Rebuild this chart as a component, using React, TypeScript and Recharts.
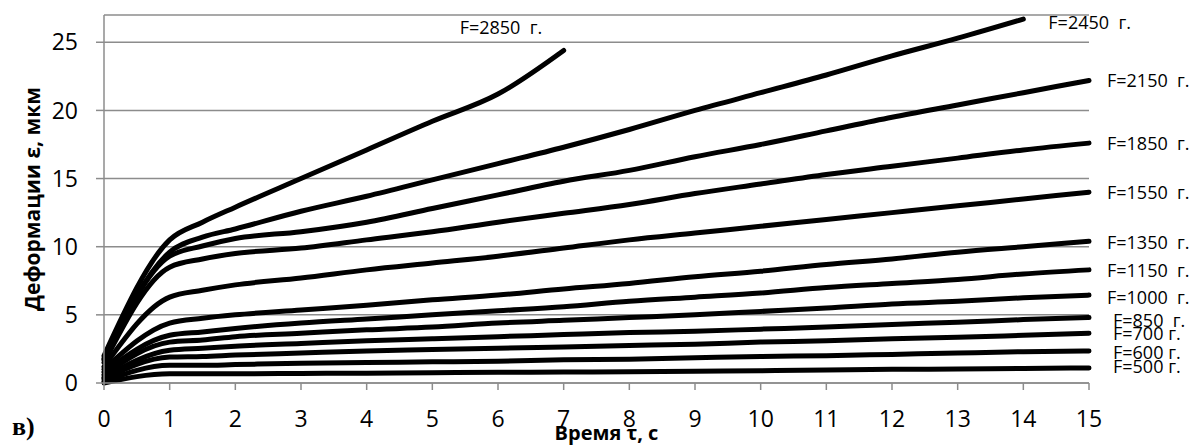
import React from "react";
import {
  LineChart,
  Line,
  XAxis,
  YAxis,
  CartesianGrid,
  LabelList,
} from "recharts";

// time points (s)
const times = [0, 1, 1.5, 2, 3, 4, 5, 6, 7, 8, 9, 10, 11, 12, 13, 14, 15];

// deformation, mkm, one list per load
const f2850 = [2.0, 10.5, 11.8, 12.9, 15.0, 17.1, 19.2, 21.2, 24.4];
const f2450 = [1.8, 9.6, 10.7, 11.3, 12.6, 13.7, 14.9, 16.1, 17.3, 18.6, 20.0, 21.3, 22.6, 24.0, 25.3, 26.7];
const f2150 = [1.7, 9.3, 10.05, 10.6, 11.1, 11.8, 12.8, 13.8, 14.8, 15.6, 16.6, 17.5, 18.5, 19.5, 20.4, 21.3, 22.2];
const f1850 = [1.5, 8.5, 9.1, 9.5, 9.9, 10.5, 11.1, 11.8, 12.45, 13.1, 13.9, 14.6, 15.3, 15.9, 16.5, 17.1, 17.6];
const f1550 = [1.2, 6.3, 6.8, 7.2, 7.7, 8.3, 8.8, 9.3, 9.9, 10.5, 11.0, 11.5, 12.0, 12.5, 13.0, 13.5, 14.0];
const f1350 = [1.0, 4.4, 4.75, 5.0, 5.35, 5.7, 6.1, 6.45, 6.9, 7.3, 7.8, 8.2, 8.7, 9.1, 9.6, 10.0, 10.4];
const f1150 = [0.8, 3.5, 3.75, 4.0, 4.4, 4.7, 5.0, 5.3, 5.6, 6.0, 6.3, 6.6, 7.0, 7.3, 7.6, 8.0, 8.3];
const f1000 = [0.6, 3.0, 3.15, 3.4, 3.65, 3.9, 4.1, 4.4, 4.6, 4.8, 5.0, 5.25, 5.5, 5.8, 6.0, 6.25, 6.45];
const f850 = [0.4, 2.4, 2.55, 2.7, 2.9, 3.1, 3.25, 3.4, 3.55, 3.7, 3.8, 3.95, 4.1, 4.3, 4.45, 4.65, 4.8];
const f700 = [0.3, 1.9, 1.95, 2.05, 2.2, 2.35, 2.45, 2.55, 2.65, 2.75, 2.85, 3.0, 3.1, 3.25, 3.35, 3.5, 3.65];
const f600 = [0.1, 1.3, 1.3, 1.35, 1.45, 1.5, 1.55, 1.6, 1.7, 1.75, 1.85, 1.95, 2.0, 2.1, 2.2, 2.3, 2.35];
const f500 = [0, 0.68, 0.68, 0.68, 0.7, 0.72, 0.75, 0.78, 0.8, 0.83, 0.87, 0.9, 0.95, 1.0, 1.03, 1.07, 1.1];

const seriesValues = [f2850, f2450, f2150, f1850, f1550, f1350, f1150, f1000, f850, f700, f600, f500];
const seriesNames = [
  "F=2850  г.", "F=2450  г.", "F=2150  г.", "F=1850  г.", "F=1550  г.", "F=1350  г.",
  "F=1150  г.", "F=1000  г.", "F=850  г.", "F=700 г.", "F=600 г.", "F=500 г.",
];

const xTicks = [0, 1, 2, 3, 4, 5, 6, 7, 8, 9, 10, 11, 12, 13, 14, 15];
const yTicks = [0, 5, 10, 15, 20, 25];

// where each end label sits relative to the last point
const labelShift = [
  [-104, -23], [25, 3], [18, 0], [18, 0], [18, 0], [18, 1],
  [18, 0], [18, 2], [24, 2], [24, 0], [24, 1], [24, -2],
];

const FONT = "'Open Sans', sans-serif";
const GRID = "#8c8c8c";

const App = () => {
  return (
    <div style={{ position: "absolute", left: 0, top: 0, width: 1194, height: 446, background: "#fff" }}>
      <LineChart
        width={1194}
        height={446}
        margin={{ top: 15, right: 105, bottom: 33, left: 0 }}
      >
        <CartesianGrid vertical={false} stroke={GRID} strokeWidth={1.5} />
        <XAxis
          type="number"
          dataKey="x"
          domain={[0, 15]}
          ticks={xTicks}
          interval={0}
          height={30}
          stroke={GRID}
          strokeWidth={1.5}
          tickSize={7}
          tickMargin={21}
          tick={{ fontSize: 23, fill: "#000", fontFamily: FONT }}
          label={{
            content: (p: any) => {
              const vb = p.viewBox;
              return (
                <text
                  x={vb.x + vb.width / 2 + 10}
                  y={432}
                  textAnchor="middle"
                  dominantBaseline="central"
                  fontFamily={FONT}
                  fontWeight="bold"
                  fontSize={20}
                  fill="#000"
                >
                  Время τ, с
                </text>
              );
            },
          }}
        />
        <YAxis
          type="number"
          domain={[0, 27]}
          ticks={yTicks}
          interval={0}
          width={104}
          stroke={GRID}
          strokeWidth={1.5}
          tickSize={8}
          tickMargin={18}
          tick={{ fontSize: 23, fill: "#000", fontFamily: FONT }}
          label={{
            content: (p: any) => {
              const vb = p.viewBox;
              const cx = vb.x + 32;
              const cy = vb.y + vb.height / 2;
              return (
                <text
                  x={cx}
                  y={cy}
                  transform={`rotate(-90 ${cx} ${cy})`}
                  textAnchor="middle"
                  dominantBaseline="central"
                  fontFamily={FONT}
                  fontWeight="bold"
                  fontSize={21}
                  fill="#000"
                >
                  Деформации ε, мкм
                </text>
              );
            },
          }}
        />
        {seriesValues.map((vals, si) => {
          const pts = vals.map((v, i) => ({ x: times[i], y: v }));
          const last = pts.length - 1;
          return (
            <Line
              key={seriesNames[si]}
              data={pts}
              dataKey="y"
              type="monotone"
              stroke="#000"
              strokeWidth={5}
              strokeLinecap="round"
              dot={false}
              activeDot={false}
              isAnimationActive={false}
            >
              <LabelList
                dataKey="y"
                content={(p: any) =>
                  p.index === last ? (
                    <text
                      x={p.x + labelShift[si][0]}
                      y={p.y + labelShift[si][1]}
                      dominantBaseline="central"
                      fontFamily={FONT}
                      fontSize={18}
                      fill="#000"
                      style={{ whiteSpace: "pre" }}
                    >
                      {seriesNames[si]}
                    </text>
                  ) : null
                }
              />
            </Line>
          );
        })}
      </LineChart>
      <div
        style={{
          position: "absolute",
          left: 12,
          top: 412,
          fontFamily: "'Liberation Serif', serif",
          fontWeight: "bold",
          fontSize: 26,
          lineHeight: "30px",
        }}
      >
        в)
      </div>
    </div>
  );
};

export default App;
